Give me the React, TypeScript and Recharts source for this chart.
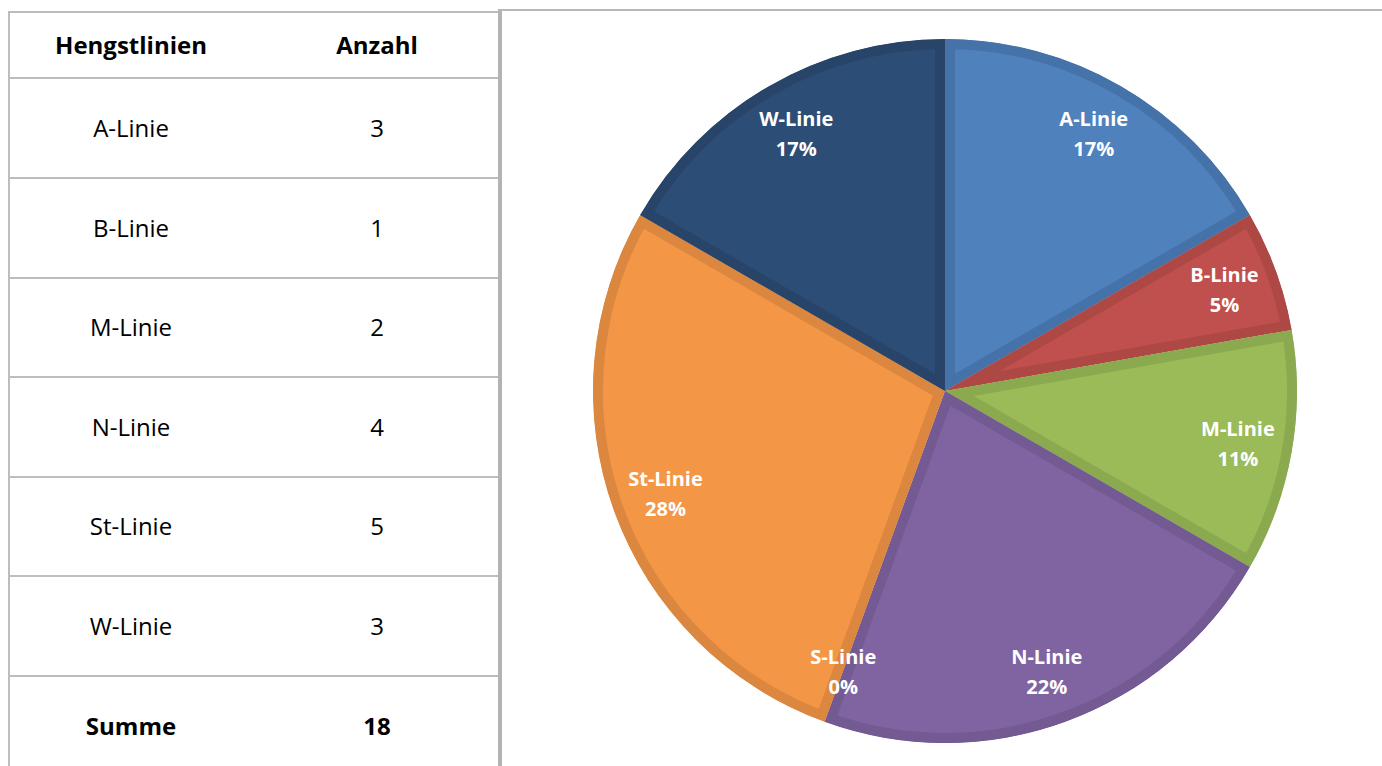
import React from "react";
import { PieChart, Pie, Cell, Sector } from "recharts";

const lines = ["A-Linie", "B-Linie", "M-Linie", "N-Linie", "S-Linie", "St-Linie", "W-Linie"];
const counts = [3, 1, 2, 4, 0, 5, 3];
const pctLabels = ["17%", "5%", "11%", "22%", "0%", "28%", "17%"];
const fills = ["#4F81BD", "#C0504D", "#9BBB59", "#8064A2", "#4BACC6", "#F39646", "#2C4D75"];
const edges = ["#4672AA", "#AD4845", "#8BA94F", "#735A92", "#4399B2", "#DB873F", "#284569"];

// table rows (S-Linie is not in the table)
const tableNames = ["A-Linie", "B-Linie", "M-Linie", "N-Linie", "St-Linie", "W-Linie"];
const tableCounts = ["3", "1", "2", "4", "5", "3"];
const total = "18";

const data = lines.map((name, i) => ({ name, value: counts[i] }));

const FONT = "'Open Sans', sans-serif";
const GRID = "#BDBDBD";
const RADIAN = Math.PI / 180;

const renderShape = (props: any) => {
  const id = `clip-${props.index}`;
  return (
    <g>
      <defs>
        <clipPath id={id}>
          <Sector
            cx={props.cx}
            cy={props.cy}
            innerRadius={0}
            outerRadius={props.outerRadius}
            startAngle={props.startAngle}
            endAngle={props.endAngle}
          />
        </clipPath>
      </defs>
      <Sector
        cx={props.cx}
        cy={props.cy}
        innerRadius={0}
        outerRadius={props.outerRadius}
        startAngle={props.startAngle}
        endAngle={props.endAngle}
        fill={props.fill}
        stroke={edges[props.index]}
        strokeWidth={20}
        clipPath={`url(#${id})`}
      />
    </g>
  );
};

const renderLabel = (props: any) => {
  const { cx, cy, midAngle, outerRadius, index } = props;
  const r = outerRadius * 0.845;
  const x = cx + r * Math.cos(-midAngle * RADIAN);
  const y = cy + r * Math.sin(-midAngle * RADIAN);
  return (
    <text
      x={x}
      y={y}
      fill="#FFFFFF"
      textAnchor="middle"
      fontFamily={FONT}
      fontWeight="bold"
      fontSize={20}
    >
      <tspan x={x} dy={-7}>{lines[index]}</tspan>
      <tspan x={x} dy={30}>{pctLabels[index]}</tspan>
    </text>
  );
};

const rowTops = [11, 77, 177, 277, 376, 476, 575, 675];

export default function App() {
  const allRows = [
    ["Hengstlinien", "Anzahl"],
    ...tableNames.map((n, i) => [n, tableCounts[i]]),
    ["Summe", total]
  ];
  const rows: React.ReactNode[] = [];
  allRows.forEach((r, i) => {
    const top = rowTops[i];
    const h = (rowTops[i + 1] ?? 775) - top;
    const bold = i === 0 || i === allRows.length - 1;
    const textStyle: React.CSSProperties = {
      position: "absolute",
      width: 246,
      top,
      height: h,
      display: "flex",
      alignItems: "center",
      justifyContent: "center",
      fontFamily: FONT,
      fontSize: 24,
      fontWeight: bold ? 700 : 400,
      color: "#000"
    };
    rows.push(
      <div
        key={`l${i}`}
        style={{ position: "absolute", left: 8, width: 492, top, height: 2, background: GRID }}
      />
    );
    rows.push(
      <div key={`a${i}`} style={{ ...textStyle, left: 8 }}>
        {r[0]}
      </div>
    );
    rows.push(
      <div key={`b${i}`} style={{ ...textStyle, left: 254 }}>
        {r[1]}
      </div>
    );
  });

  return (
    <div
      style={{
        position: "absolute",
        left: 0,
        top: 0,
        width: 1382,
        height: 766,
        overflow: "hidden",
        background: "#FFFFFF"
      }}
    >
      {rows}
      <div style={{ position: "absolute", left: 8, top: 11, width: 2, height: 760, background: GRID }} />
      <div style={{ position: "absolute", left: 498, top: 9, width: 4, height: 760, background: "#B3B3B3" }} />
      <div style={{ position: "absolute", left: 500, top: 9, width: 882, height: 2, background: "#B8B8B8" }} />
      <div style={{ position: "absolute", left: 500, top: 0 }}>
        <PieChart width={882} height={766} margin={{ top: 0, right: 0, bottom: 0, left: 0 }}>
          <Pie
            data={data}
            dataKey="value"
            nameKey="name"
            cx={445}
            cy={391}
            outerRadius={352}
            startAngle={90}
            endAngle={-270}
            stroke="none"
            shape={renderShape}
            label={renderLabel}
            labelLine={false}
            isAnimationActive={false}
          >
            {data.map((d, i) => (
              <Cell key={d.name} fill={fills[i]} />
            ))}
          </Pie>
        </PieChart>
      </div>
    </div>
  );
}
